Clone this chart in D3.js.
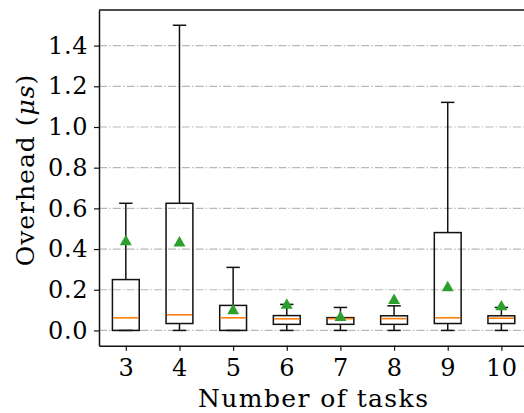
<!DOCTYPE html>
<html>
<head>
<meta charset="utf-8">
<script src="https://cdn.jsdelivr.net/npm/d3@7"></script>
<style>
  body { margin: 0; background: #fff; }
  svg { display: block; }
  text { font-family: "DejaVu Serif", serif; fill: #000; }
</style>
</head>
<body>
<div id="chart"></div>
<script>
// tasks on the x axis
var categories = ["3", "4", "5", "6", "7", "8", "9", "10"];
// box statistics (microseconds)
var whiskerLow  = [0.0, 0.0, 0.0, 0.0, 0.0, 0.0, 0.0, 0.0];
var q1Values    = [0.0, 0.034, 0.0, 0.03, 0.03, 0.03, 0.034, 0.034];
var medians     = [0.062, 0.077, 0.062, 0.057, 0.058, 0.058, 0.062, 0.06];
var q3Values    = [0.25, 0.625, 0.123, 0.073, 0.063, 0.072, 0.481, 0.072];
var whiskerHigh = [0.625, 1.5, 0.31, 0.128, 0.113, 0.121, 1.121, 0.113];
var means       = [0.436, 0.43, 0.097, 0.124, 0.063, 0.147, 0.21, 0.116];
var yTicks = [0.0, 0.2, 0.4, 0.6, 0.8, 1.0, 1.2, 1.4];

function drawChart() {
    var w = 524;
    var h = 413;
    var left = 99, top = 10, bottom = 345.7;
    var unit = 53.65;
    var lw = 1.5;

    var svg = d3.select("#chart")
        .append("svg")
        .attr("width", w)
        .attr("height", h);

    var xScale = d3.scaleLinear()
        .domain([0.5, categories.length + 0.5])
        .range([left, left + categories.length * unit]);

    var yScale = d3.scaleLinear()
        .domain([-0.075, 1.575])
        .range([bottom, top]);

    // horizontal grid, dash-dot
    svg.append("g")
        .selectAll("line")
        .data(yTicks)
        .enter()
        .append("line")
        .attr("x1", xScale(0.5))
        .attr("x2", xScale(categories.length + 0.5))
        .attr("y1", function(d){ return yScale(d); })
        .attr("y2", function(d){ return yScale(d); })
        .attr("stroke", "#b8b8b8")
        .attr("stroke-width", 1.2)
        .attr("stroke-dasharray", "8,2.2,1.4,2.2");

    var data = categories.map(function(c, i){
        return {
            pos: i + 1,
            lo: whiskerLow[i], q1: q1Values[i], med: medians[i],
            q3: q3Values[i], hi: whiskerHigh[i], mean: means[i]
        };
    });

    var boxW = xScale(1.25) - xScale(0.75);
    var capW = xScale(1.125) - xScale(0.875);

    var boxes = svg.append("g")
        .selectAll("g")
        .data(data)
        .enter()
        .append("g");

    // whiskers
    boxes.append("line")
        .attr("x1", function(d){ return xScale(d.pos); })
        .attr("x2", function(d){ return xScale(d.pos); })
        .attr("y1", function(d){ return yScale(d.q3); })
        .attr("y2", function(d){ return yScale(d.hi); })
        .attr("stroke", "#111").attr("stroke-width", lw);
    boxes.append("line")
        .attr("x1", function(d){ return xScale(d.pos); })
        .attr("x2", function(d){ return xScale(d.pos); })
        .attr("y1", function(d){ return yScale(d.q1); })
        .attr("y2", function(d){ return yScale(d.lo); })
        .attr("stroke", "#111").attr("stroke-width", lw);

    // caps
    ["hi", "lo"].forEach(function(k){
        boxes.append("line")
            .attr("x1", function(d){ return xScale(d.pos) - capW / 2; })
            .attr("x2", function(d){ return xScale(d.pos) + capW / 2; })
            .attr("y1", function(d){ return yScale(d[k]); })
            .attr("y2", function(d){ return yScale(d[k]); })
            .attr("stroke", "#111").attr("stroke-width", lw);
    });

    // box
    boxes.append("rect")
        .attr("x", function(d){ return xScale(d.pos) - boxW / 2; })
        .attr("y", function(d){ return yScale(d.q3); })
        .attr("width", boxW)
        .attr("height", function(d){ return yScale(d.q1) - yScale(d.q3); })
        .attr("fill", "none")
        .attr("stroke", "#111").attr("stroke-width", lw);

    // median
    boxes.append("line")
        .attr("x1", function(d){ return xScale(d.pos) - boxW / 2 + 0.75; })
        .attr("x2", function(d){ return xScale(d.pos) + boxW / 2 - 0.75; })
        .attr("y1", function(d){ return yScale(d.med); })
        .attr("y2", function(d){ return yScale(d.med); })
        .attr("stroke", "#ff7f0e").attr("stroke-width", 1.6);

    // mean markers
    var tri = d3.symbol().type(d3.symbolTriangle).size(62);
    boxes.append("path")
        .attr("d", tri)
        .attr("transform", function(d){
            return "translate(" + xScale(d.pos) + "," + yScale(d.mean) + ")";
        })
        .attr("fill", "#2ca02c");

    // frame
    svg.append("line")
        .attr("x1", left).attr("x2", xScale(categories.length + 0.5))
        .attr("y1", top).attr("y2", top)
        .attr("stroke", "#111").attr("stroke-width", lw);
    svg.append("line")
        .attr("x1", xScale(categories.length + 0.5)).attr("x2", xScale(categories.length + 0.5))
        .attr("y1", top).attr("y2", bottom)
        .attr("stroke", "#111").attr("stroke-width", lw);

    var xAxis = d3.axisBottom(xScale)
        .tickValues(data.map(function(d){ return d.pos; }))
        .tickFormat(function(d){ return categories[d - 1]; })
        .tickSize(5)
        .tickPadding(8)
        .tickSizeOuter(0);

    var gx = svg.append("g")
        .attr("transform", "translate(0," + bottom + ")")
        .call(xAxis);

    var yAxis = d3.axisLeft(yScale)
        .tickValues(yTicks)
        .tickFormat(d3.format(".1f"))
        .tickSize(5)
        .tickPadding(6)
        .tickSizeOuter(0);

    var gy = svg.append("g")
        .attr("transform", "translate(" + left + ",0)")
        .call(yAxis);

    [gx, gy].forEach(function(g){
        g.select(".domain").attr("stroke", "#111").attr("stroke-width", lw);
        g.selectAll(".tick line").attr("stroke", "#111").attr("stroke-width", 1.2);
        g.selectAll(".tick text")
            .attr("font-family", "DejaVu Serif")
            .attr("font-size", 24)
            .attr("letter-spacing", 0.6)
            .attr("fill", "#000");
    });

    svg.append("text")
        .attr("x", 313)
        .attr("y", 406.5)
        .attr("text-anchor", "middle")
        .attr("font-size", 25)
        .attr("textLength", 230)
        .attr("lengthAdjust", "spacing")
        .text("Number of tasks");

    var yl = svg.append("text")
        .attr("transform", "translate(34,170) rotate(-90)")
        .attr("text-anchor", "middle")
        .attr("font-size", 25)
        .attr("letter-spacing", 1);
    yl.append("tspan").text("Overhead (");
    yl.append("tspan").attr("font-style", "italic").text("μs");
    yl.append("tspan").text(")");
}

window.onload = drawChart();
</script>
</body>
</html>
